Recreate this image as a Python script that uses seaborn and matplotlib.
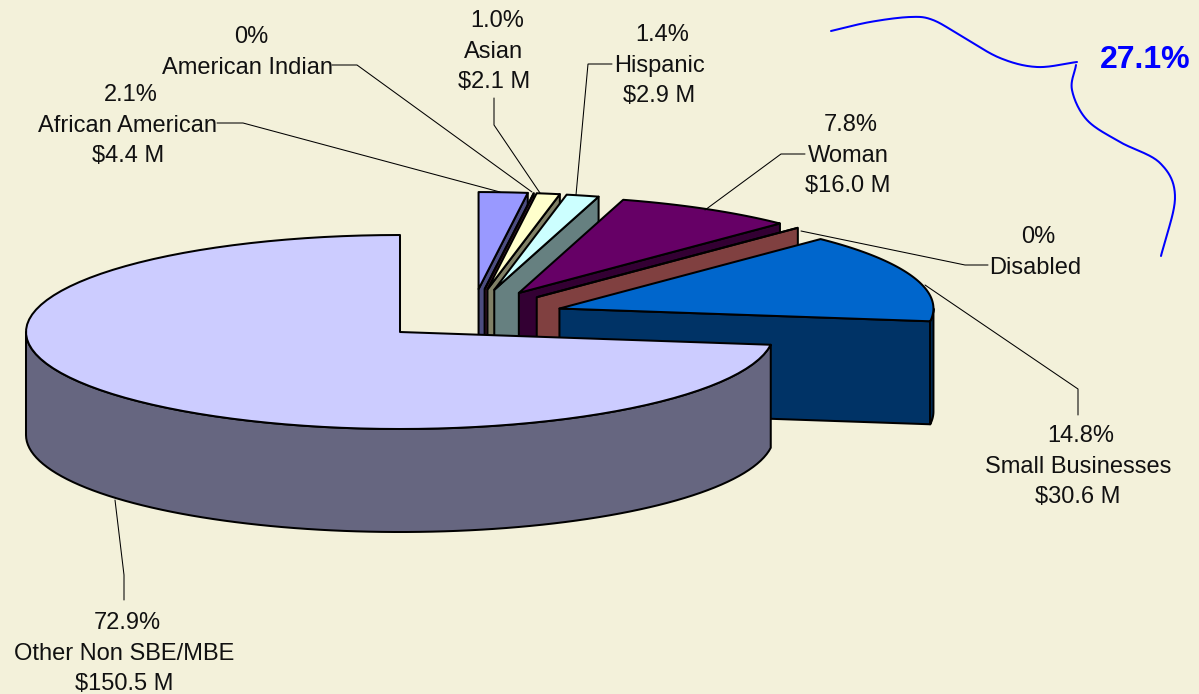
import numpy as np
import pandas as pd
import seaborn as sns
import matplotlib
matplotlib.use("Agg")
import matplotlib.pyplot as plt

# ---- data ----
categories = ["African American", "American Indian", "Asian", "Hispanic",
              "Woman", "Disabled", "Small Businesses", "Other Non SBE/MBE"]
shares = [2.1, 0.0, 1.0, 1.4, 7.8, 0.0, 14.8, 72.9]
amounts = [4.4, None, 2.1, 2.9, 16.0, None, 30.6, 150.5]
annotation_total = "27.1%"

# ---- style ----
sns.set_style("white")
plt.rcParams["font.family"] = ["Liberation Sans", "DejaVu Sans"]
BG = "#F3F1DA"
top_colors = sns.color_palette(["#9999FF", "#993366", "#FFFFCC", "#CCFFFF",
                                "#660066", "#FF8080", "#0066CC", "#CCCCFF"])
side_colors = sns.color_palette(["#4C4C80", "#4C1933", "#808066", "#668080",
                                 "#330033", "#804040", "#003366", "#666680"])
exploded = [True] * 7 + [False]

# ---- projection of the tilted pie ----
CX, CY, RX, RY, DEPTH = 400, 332, 374, 97, 103
SHIFT_X, SHIFT_Y = 72.5, -14    # common shift of the pulled-out group
PULL_X, PULL_Y = 92, 29         # radial pull-out


def rim(cx, cy, t0, t1, n=90):
    t = np.radians(np.linspace(t0, t1, n))
    return cx + RX * np.sin(t), cy - RY * np.cos(t)


df = pd.DataFrame({"category": categories, "share": shares, "amount": amounts})
df["end"] = df["share"].cumsum() * 3.6
df["start"] = df["end"] - df["share"] * 3.6

fig, ax = plt.subplots(figsize=(11.99, 6.94), dpi=100)
fig.patch.set_facecolor(BG)
ax.set_position([0, 0, 1, 1])
ax.set_facecolor(BG)
ax.set_xlim(0, 1199)
ax.set_ylim(694, 0)
ax.axis("off")

edge = dict(edgecolor="black", linewidth=1.45, joinstyle="round")

for i, row in df.iterrows():
    mid = np.radians((row.start + row.end) / 2)
    if exploded[i]:
        cx = CX + SHIFT_X + PULL_X * np.sin(mid)
        cy = CY + SHIFT_Y - PULL_Y * np.cos(mid)
    else:
        cx, cy = CX, CY
    # cut face at the clockwise end of the slice
    if exploded[i]:
        ex, ey = rim(cx, cy, row.end, row.end, 1)
        ax.fill([cx, ex[0], ex[0], cx], [cy, ey[0], ey[0] + DEPTH, cy + DEPTH],
                facecolor=side_colors[i], **edge)
    # visible outer wall
    a, b = max(row.start, 90), min(row.end, 270)
    if b > a:
        wx, wy = rim(cx, cy, a, b)
        ax.fill(np.r_[wx, wx[::-1]], np.r_[wy, wy[::-1] + DEPTH],
                facecolor=side_colors[i], **edge)
    # top surface
    tx, ty = rim(cx, cy, row.start, row.end)
    ax.fill(np.r_[cx, tx], np.r_[cy, ty], facecolor=top_colors[i], **edge)

# ---- labels ----
FS = 17
LINE = 30.5


def pct(v):
    return f"{v:.1f}%" if v else "0%"


def label(name, x, y):
    r = df[df.category == name].iloc[0]
    ax.text(x + 3, y, pct(r.share), ha="center", va="center", fontsize=FS, color="#111111")
    ax.text(x, y + LINE, name, ha="center", va="center", fontsize=FS, color="#111111")
    if pd.notna(r.amount):
        ax.text(x, y + 2 * LINE, f"${r.amount:.1f} M", ha="center", va="center",
                fontsize=FS, color="#111111", parse_math=False)


label("African American", 128, 95)
label("American Indian", 248, 37)
label("Asian", 494, 21)
label("Hispanic", 659, 35)
label("Woman", 848, 125)
label("Disabled", 1035, 237)
label("Small Businesses", 1078, 436)
label("Other Non SBE/MBE", 124, 623)

leaders = [
    ([217, 243, 500], [123, 123, 192]),
    ([332, 357, 532], [65, 65, 192]),
    ([494, 494, 540], [98, 125, 193]),
    ([612, 588, 576], [64, 64, 195]),
    ([805, 781, 705], [154, 154, 210]),
    ([988, 965, 801], [265, 265, 231]),
    ([1078, 1078, 925], [415, 389, 285]),
    ([124, 124, 115], [600, 575, 500]),
]
for lx, ly in leaders:
    ax.plot(lx, ly, color="black", lw=0.75, solid_joinstyle="miter")


# ---- hand-drawn brace ----
def smooth(pts, n=24):
    p = np.array(pts, float)
    p = np.vstack([2 * p[0] - p[1], p, 2 * p[-1] - p[-2]])
    out = []
    for i in range(1, len(p) - 2):
        u = np.linspace(0, 1, n)[:, None]
        out.append(0.5 * (2 * p[i] + (p[i + 1] - p[i - 1]) * u
                          + (2 * p[i - 1] - 5 * p[i] + 4 * p[i + 1] - p[i + 2]) * u ** 2
                          + (3 * p[i] - p[i - 1] - 3 * p[i + 1] + p[i + 2]) * u ** 3))
    return np.vstack(out)


for stroke in (
    [(831, 31), (870, 22), (910, 17), (933, 20), (963, 37), (1000, 58), (1037, 67), (1077, 62)],
    [(1076, 65), (1072, 90), (1087, 120), (1120, 142), (1160, 163), (1175, 197), (1161, 256)],
):
    c = smooth(stroke)
    ax.plot(c[:, 0], c[:, 1], color="#0000FF", lw=1.45)

ax.text(1145, 60, annotation_total, ha="center", va="center", fontsize=23,
        fontweight="bold", color="#0000FF")

fig.savefig("out.png", dpi=100, facecolor=BG)
